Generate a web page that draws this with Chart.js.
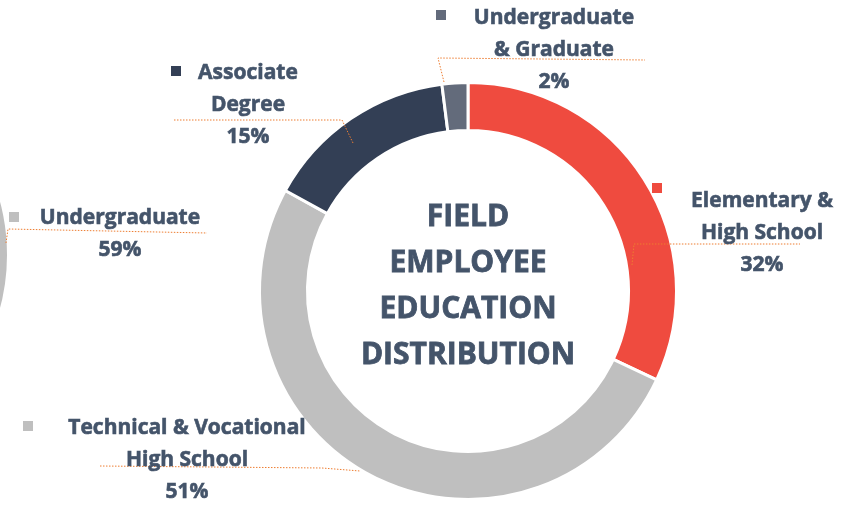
<!DOCTYPE html>
<html>
<head>
<meta charset="utf-8">
<script src="https://cdn.jsdelivr.net/npm/chart.js@4/dist/chart.umd.min.js"></script>
<style>
  html, body { margin: 0; padding: 0; background: #fff; overflow: hidden; }
  #wrap { position: relative; width: 858px; height: 505px; overflow: hidden; }
  #main { position: absolute; left: 0; top: 0; }
  #side { position: absolute; left: -410px; top: 45px; }
</style>
</head>
<body>
<div id="wrap">
  <canvas id="side" width="420" height="420"></canvas>
  <canvas id="main" width="858" height="505"></canvas>
</div>
<script>
// field employees
const categories = ["Elementary & High School", "Technical & Vocational High School", "Associate Degree", "Undergraduate & Graduate"];
const labelLines = [["Elementary &", "High School"], ["Technical & Vocational", "High School"], ["Associate", "Degree"], ["Undergraduate", "& Graduate"]];
const shares = [32, 51, 15, 2];
const sliceColors = ["#EF4B3F", "#BFBFBF", "#333F55", "#636B7B"];

// the neighbouring chart that is cut off at the left edge
const sideCategories = ["Undergraduate", "Other"];
const sideShares = [59, 41];
const sideColors = ["#BFBFBF", "#D9D9D9"];

const title = ["FIELD", "EMPLOYEE", "EDUCATION", "DISTRIBUTION"];

const TEXT = "#44546A";
const LEADER = "#ED7D31";
const FONT = "'Open Sans', sans-serif";

// where each label sits: text centre x, first line y, marker square, leader path
const labelPos = [
  { x: 762, y: 201, mx: 652, my: 183, path: [[632, 265], [634, 244], [800, 244]] },
  { x: 187, y: 428, mx: 23, my: 421, path: [[100, 466], [322, 468], [360, 471]] },
  { x: 248, y: 73, mx: 171, my: 66, path: [[353, 143], [342, 120], [173, 120]] },
  { x: 554, y: 18, mx: 436, my: 10, path: [[444, 82], [438, 58], [645, 60]] }
];
const sideLabel = { lines: ["Undergraduate"], x: 120, y: 218, mx: 9, my: 212, path: [[6, 243], [8, 229], [207, 233]] };

function boldText(ctx, t, x, y) {
  ctx.fillText(t, x, y);
  ctx.strokeText(t, x, y);
}

function drawLabel(ctx, lines, pct, pos, color) {
  ctx.save();
  // dotted leader
  ctx.strokeStyle = LEADER;
  ctx.lineWidth = 1;
  ctx.setLineDash([1.5, 1.5]);
  ctx.beginPath();
  pos.path.forEach((p, i) => i ? ctx.lineTo(p[0], p[1]) : ctx.moveTo(p[0], p[1]));
  ctx.stroke();
  ctx.setLineDash([]);

  ctx.fillStyle = color;
  ctx.fillRect(pos.mx, pos.my, 10, 10);

  ctx.fillStyle = TEXT;
  ctx.strokeStyle = TEXT;
  ctx.lineWidth = 0.6;
  ctx.font = "bold 21px " + FONT;
  ctx.textAlign = "center";
  ctx.textBaseline = "middle";
  lines.forEach((t, i) => boldText(ctx, t, pos.x, pos.y + i * 32));
  boldText(ctx, pct + "%", pos.x, pos.y + lines.length * 32);
  ctx.restore();
}

const annotate = {
  id: "annotate",
  afterDraw(chart) {
    const ctx = chart.ctx;
    const arc = chart.getDatasetMeta(0).data[0];
    const cx = arc.x, cy = arc.y;

    ctx.save();
    ctx.fillStyle = TEXT;
    ctx.strokeStyle = TEXT;
    ctx.lineWidth = 0.8;
    ctx.font = "bold 30px " + FONT;
    ctx.textAlign = "center";
    ctx.textBaseline = "middle";
    const lh = 45.7;
    title.forEach((t, i) => boldText(ctx, t, cx, cy - 1.5 * lh + i * lh - 4.5));
    ctx.restore();

    shares.forEach((v, i) => drawLabel(ctx, labelLines[i], v, labelPos[i], sliceColors[i]));
    drawLabel(ctx, sideLabel.lines, sideShares[0], sideLabel, sideColors[0]);
  }
};

new Chart(document.getElementById("side"), {
  type: "doughnut",
  data: {
    labels: sideCategories,
    datasets: [{ data: sideShares, backgroundColor: sideColors, borderColor: "#fff", borderWidth: 3 }]
  },
  options: {
    responsive: false,
    animation: false,
    cutout: "77%",
    plugins: { legend: { display: false }, tooltip: { enabled: false } }
  }
});

new Chart(document.getElementById("main"), {
  type: "doughnut",
  data: {
    labels: categories,
    datasets: [{ data: shares, backgroundColor: sliceColors, borderColor: "#fff", borderWidth: 3 }]
  },
  options: {
    responsive: false,
    animation: false,
    cutout: "77%",
    layout: { padding: { left: 258, right: 180, top: 81, bottom: 4 } },
    plugins: { legend: { display: false }, tooltip: { enabled: false } }
  },
  plugins: [annotate]
});
</script>
</body>
</html>
